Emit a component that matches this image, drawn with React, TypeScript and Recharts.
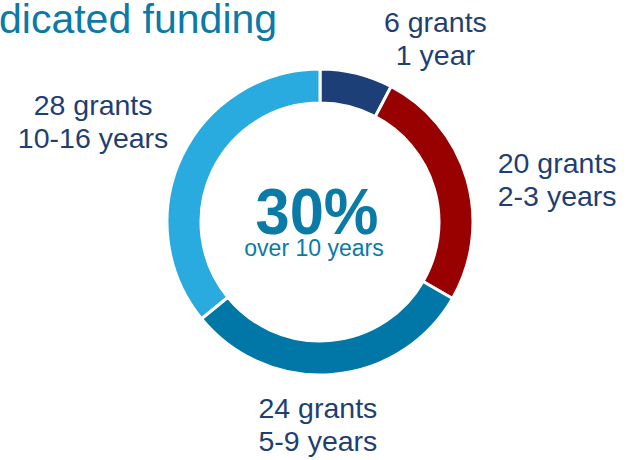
import { PieChart, Pie, Cell } from 'recharts'

const grants = [6, 20, 24, 28]
const durations = ['1 year', '2-3 years', '5-9 years', '10-16 years']
const colors = ['#1c3f78', '#990000', '#0077a6', '#29abdf']

const data = grants.map((g, i) => ({ name: durations[i], value: g }))

// hand placed label offsets (px) from the radial anchor point
const labelNudge = [
  [68, 2],
  [47, 6],
  [-18, -1],
  [-48, -22],
]

const RAD = Math.PI / 180
const labelColor = '#1f3f73'
const teal = '#0a7aa6'
const font = 'Liberation Sans, Arial, sans-serif'

function renderLabel(props: any) {
  const { cx, cy, midAngle, outerRadius, index } = props
  const r = outerRadius + 45
  const x = cx + r * Math.cos(-midAngle * RAD) + labelNudge[index][0]
  const y = cy + r * Math.sin(-midAngle * RAD) + labelNudge[index][1]
  return (
    <text
      key={`lbl-${index}`}
      x={x}
      y={y}
      textAnchor="middle"
      fill={labelColor}
      fontSize={28.5}
      fontFamily={font}
    >
      <tspan x={x} dy={0}>{`${grants[index]} grants`}</tspan>
      <tspan x={x} dy={33}>{durations[index]}</tspan>
    </text>
  )
}

export default function App() {
  return (
    <div style={{ position: 'absolute', left: 0, top: 0, width: 631, height: 460, background: '#fff' }}>
      <PieChart width={631} height={460} margin={{ top: 0, right: 0, bottom: 0, left: 0 }}>
        <text x={-1} y={33} fill={teal} fontSize={41} fontFamily={font}>
          dicated funding
        </text>
        <Pie
          data={data}
          dataKey="value"
          cx={320}
          cy={222}
          innerRadius={119}
          outerRadius={153}
          startAngle={90}
          endAngle={-270}
          stroke="#fff"
          strokeWidth={3}
          label={renderLabel}
          labelLine={false}
          isAnimationActive={false}
        >
          {data.map((d, i) => (
            <Cell key={d.name} fill={colors[i]} />
          ))}
        </Pie>
        <text
          x={317}
          y={234}
          textAnchor="middle"
          fill={teal}
          fontSize={64}
          fontWeight="bold"
          fontFamily={font}
          textLength={123}
          lengthAdjust="spacingAndGlyphs"
        >
          30%
        </text>
        <text x={314} y={256} textAnchor="middle" fill={teal} fontSize={23} fontFamily={font}>
          over 10 years
        </text>
      </PieChart>
    </div>
  )
}
